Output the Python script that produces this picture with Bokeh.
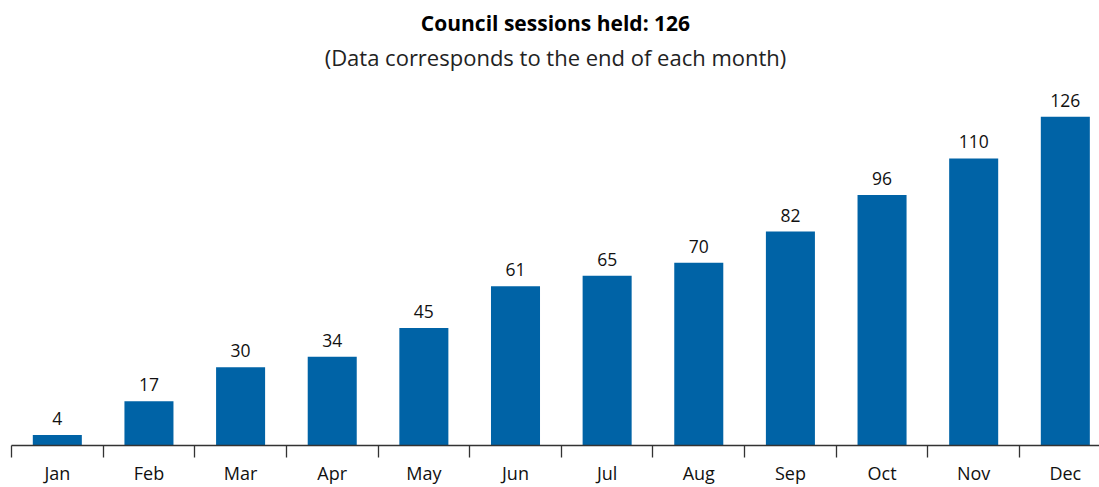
import numpy as np
from bokeh.plotting import figure
from bokeh.models import Range1d, LinearAxis, FixedTicker, CustomJSTickFormatter, Title, ColumnDataSource
from bokeh.core.properties import value
from bokeh.embed import file_html
from bokeh.resources import INLINE

months = ["Jan", "Feb", "Mar", "Apr", "May", "Jun", "Jul", "Aug", "Sep", "Oct", "Nov", "Dec"]
sessions = [4, 17, 30, 34, 45, 61, 65, 70, 82, 96, 110, 126]
title_text = "Council sessions held: 126"
subtitle_text = "(Data corresponds to the end of each month)"

FONT = "Open Sans"
BLUE = "#0063a6"
AXIS = "#333333"

pos = np.arange(len(months)) + 0.5
src = ColumnDataSource(dict(x=pos, y=sessions, label=[str(v) for v in sessions], month=months))

p = figure(width=1099, height=487, output_backend="svg", toolbar_location=None,
           x_range=Range1d(0, 11.873), y_range=Range1d(0, 141.4),
           x_axis_type=None, y_axis_type=None,
           min_border_left=11, min_border_right=0, min_border_top=0, min_border_bottom=0)
p.outline_line_color = None
p.xgrid.visible = False
p.ygrid.visible = False
p.background_fill_color = "white"
p.border_fill_color = "white"

# outermost spacer (figure title slot) to push the headings down a little
p.title.text = " "
p.title.text_font_size = "5px"
p.title.standoff = 0

# closest to the frame first
p.add_layout(Title(text=subtitle_text, align="center", text_font=FONT,
                   text_font_style="normal", text_font_size="22px", text_color="#222222"), "above")
p.add_layout(Title(text=title_text, align="center", text_font=FONT, text_font_style="bold",
                   text_font_size="21px", text_color="#000000", standoff=-4), "above")

p.vbar(x="x", top="y", width=0.535, bottom=0, source=src, fill_color=BLUE, line_color=None)
p.text(x="x", y="y", text="label", source=src, text_align="center", text_baseline="alphabetic",
       y_offset=-16.5, text_font=value(FONT), text_font_size="17.5px", text_color="#111111")

xaxis = LinearAxis(
    ticker=FixedTicker(ticks=list(pos), minor_ticks=list(np.arange(len(months) + 1))),
    formatter=CustomJSTickFormatter(args=dict(months=months), code="return months[Math.floor(tick)];"),
    axis_line_color=AXIS, axis_line_width=1.3,
    major_tick_out=0, major_tick_in=0,
    minor_tick_out=12, minor_tick_in=0, minor_tick_line_color=AXIS, minor_tick_line_width=1.3,
    major_label_standoff=3, major_label_text_font=FONT, major_label_text_font_size="18px",
    major_label_text_color="#111111")
p.add_layout(xaxis, "below")

open("out.html", "w").write(file_html(p, INLINE))
